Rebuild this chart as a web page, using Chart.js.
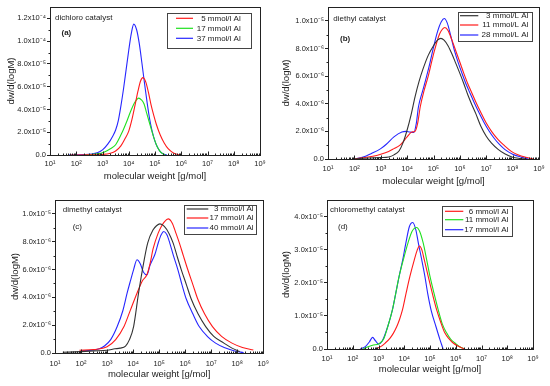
<!DOCTYPE html>
<html>
<head>
<meta charset="utf-8">
<script src="https://cdn.jsdelivr.net/npm/chart.js@4.4.0/dist/chart.umd.min.js"></script>
<style>
  body { margin: 0; background: #fff; }
  canvas { position: absolute; }
</style>
</head>
<body>
<canvas id="chartA" width="275" height="193" style="left:0;top:0"></canvas>
<canvas id="chartB" width="275" height="193" style="left:275px;top:0"></canvas>
<canvas id="chartC" width="275" height="193" style="left:0;top:193px"></canvas>
<canvas id="chartD" width="275" height="193" style="left:275px;top:193px"></canvas>
<script>
// x axis: log10 of molecular weight, ticks 10^1 .. 10^9
const massTicks = [1, 2, 3, 4, 5, 6, 7, 8, 9];

// (a) dichloro catalyst, dw/d(logM) in units of 1e-5
const dichloroTicks = [0, 2, 4, 6, 8, 10, 12];
const dichloroLabels = ['5 mmol/l Al', '17 mmol/l Al', '37 mmol/l Al'];
const dichloroLogM5 = [1.8, 2.5, 3.0, 3.3, 3.5, 3.7, 3.85, 4.0, 4.12, 4.25, 4.35, 4.45, 4.54, 4.65, 4.75, 4.85, 4.95, 5.05, 5.2, 5.35, 5.5, 5.7, 5.95];
const dichloroW5 = [0, 0.02, 0.05, 0.15, 0.35, 0.8, 1.4, 2.1, 3.1, 4.5, 5.6, 6.5, 6.8, 6.4, 5.5, 4.4, 3.5, 2.7, 1.75, 1.05, 0.55, 0.18, 0];
const dichloroLogM17 = [2.3, 2.8, 3.05, 3.3, 3.5, 3.75, 3.95, 4.1, 4.25, 4.38, 4.48, 4.58, 4.68, 4.78, 4.88, 4.98, 5.08, 5.2, 5.3, 5.4];
const dichloroW17 = [0, 0.1, 0.25, 0.55, 0.9, 2.0, 3.1, 4.0, 4.7, 5.0, 4.85, 4.5, 3.7, 2.9, 2.1, 1.35, 0.75, 0.3, 0.1, 0];
const dichloroLogM37 = [1.7, 2.3, 2.8, 3.0, 3.2, 3.4, 3.5, 3.6, 3.7, 3.8, 3.9, 4.0, 4.1, 4.19, 4.3, 4.4, 4.5, 4.6, 4.7, 4.8, 4.9, 5.0, 5.1, 5.2, 5.3, 5.45];
const dichloroW37 = [0, 0.03, 0.2, 0.45, 0.95, 1.7, 2.2, 3.0, 4.3, 5.8, 7.5, 9.2, 10.7, 11.5, 11.0, 9.8, 8.1, 6.3, 4.6, 3.1, 2.0, 1.2, 0.65, 0.3, 0.12, 0];

// (b) diethyl catalyst, units of 1e-6
const diethylTicks = [0, 2, 4, 6, 8, 10];
const diethylLabels = ['3 mmol/L Al', '11 mmol/L Al', '28 mmol/L Al'];
const diethylLogM3 = [2.0, 2.3, 2.7, 3.0, 3.3, 3.5, 3.7, 3.85, 4.0, 4.15, 4.3, 4.45, 4.6, 4.8, 5.0, 5.15, 5.28, 5.4, 5.55, 5.7, 5.85, 6.0, 6.15, 6.3, 6.45, 6.6, 6.8, 7.0, 7.2, 7.45, 7.7, 8.0, 8.3, 8.5];
const diethylW3 = [0, 0.05, 0.08, 0.1, 0.15, 0.3, 0.6, 1.2, 2.1, 3.2, 4.5, 5.6, 6.5, 7.5, 8.2, 8.6, 8.73, 8.6, 8.2, 7.6, 6.9, 6.2, 5.45, 4.65, 3.95, 3.3, 2.35, 1.65, 1.15, 0.7, 0.38, 0.13, 0.04, 0];
const diethylLogM11 = [2.0, 2.3, 2.7, 3.0, 3.3, 3.5, 3.73, 4.0, 4.18, 4.3, 4.4, 4.5, 4.65, 4.8, 4.95, 5.06, 5.2, 5.3, 5.43, 5.55, 5.7, 5.85, 6.0, 6.15, 6.3, 6.45, 6.6, 6.8, 7.0, 7.2, 7.45, 7.7, 7.95, 8.2, 8.5, 8.8];
const diethylW11 = [0, 0.08, 0.2, 0.35, 0.55, 0.75, 1.0, 1.6, 1.95, 2.0, 2.6, 3.8, 5.0, 6.0, 7.2, 8.0, 8.9, 9.3, 9.52, 9.3, 8.6, 7.8, 7.0, 6.2, 5.45, 4.8, 4.15, 3.35, 2.6, 2.0, 1.4, 0.95, 0.55, 0.3, 0.12, 0];
const diethylLogM28 = [2.0, 2.3, 2.66, 3.0, 3.2, 3.5, 3.8, 3.95, 4.1, 4.25, 4.35, 4.43, 4.6, 4.74, 4.87, 4.99, 5.15, 5.3, 5.41, 5.52, 5.65, 5.8, 5.95, 6.1, 6.25, 6.4, 6.55, 6.7, 6.9, 7.1, 7.3, 7.5, 7.7, 8.0, 8.3, 8.6];
const diethylW28 = [0, 0.12, 0.41, 0.75, 1.05, 1.6, 1.95, 2.0, 1.95, 1.92, 2.6, 3.78, 5.0, 6.0, 7.0, 8.0, 9.2, 9.95, 10.17, 9.85, 8.95, 7.8, 6.9, 6.1, 5.35, 4.7, 4.05, 3.45, 2.7, 2.05, 1.5, 1.05, 0.7, 0.35, 0.15, 0];

// (c) dimethyl catalyst, units of 1e-6
const dimethylTicks = [0, 2, 4, 6, 8, 10];
const dimethylLabels = ['3 mmol/l Al', '17 mmol/l Al', '40 mmol/l Al'];
const dimethylLogM3 = [1.3, 2.0, 2.5, 3.0, 3.3, 3.5, 3.71, 3.86, 4.02, 4.21, 4.36, 4.56, 4.77, 4.9, 5.03, 5.2, 5.38, 5.54, 5.7, 5.85, 6.05, 6.23, 6.5, 6.79, 7.1, 7.49, 7.8, 8.1];
const dimethylW3 = [0.05, 0.1, 0.15, 0.2, 0.3, 0.35, 0.5, 0.96, 1.9, 4.3, 6.0, 7.9, 8.86, 9.15, 9.28, 9.1, 8.6, 7.9, 6.9, 6.0, 4.9, 3.9, 2.8, 1.9, 1.2, 0.71, 0.35, 0.1];
const dimethylLogM17 = [1.94, 2.5, 3.0, 3.33, 3.65, 3.9, 4.15, 4.36, 4.53, 4.65, 4.77, 4.96, 5.1, 5.21, 5.35, 5.5, 5.65, 5.78, 5.93, 6.1, 6.3, 6.48, 6.75, 7.05, 7.4, 7.8, 8.2, 8.62];
const dimethylW17 = [0.2, 0.25, 0.45, 0.96, 1.9, 3.1, 4.3, 5.2, 5.62, 6.4, 7.5, 8.6, 9.15, 9.45, 9.64, 9.35, 8.6, 7.9, 7.0, 6.0, 4.9, 3.9, 2.8, 1.9, 1.2, 0.71, 0.4, 0.22];
const dimethylLogM40 = [2.0, 2.4, 2.7, 2.9, 3.14, 3.39, 3.6, 3.77, 3.9, 4.02, 4.15, 4.28, 4.4, 4.53, 4.65, 4.84, 4.98, 5.08, 5.18, 5.3, 5.41, 5.55, 5.72, 5.88, 6.04, 6.3, 6.54, 6.85, 7.17, 7.5, 7.9, 8.25];
const dimethylW40 = [0.15, 0.2, 0.3, 0.5, 0.96, 1.9, 3.0, 4.3, 5.2, 6.0, 6.7, 6.4, 5.8, 5.62, 6.3, 7.1, 8.0, 8.5, 8.73, 8.5, 7.9, 7.0, 6.0, 4.9, 3.9, 2.8, 1.9, 1.2, 0.71, 0.4, 0.15, 0.02];

// (d) chloromethyl catalyst, units of 1e-5
const chloromethylTicks = [0, 1, 2, 3, 4];
const chloromethylLabels = ['6 mmol/l Al', '11 mmol/l Al', '17 mmol/l Al'];
const chloromethylLogM6 = [2.87, 3.1, 3.26, 3.45, 3.58, 3.71, 3.82, 3.93, 4.07, 4.22, 4.39, 4.5, 4.59, 4.68, 4.78, 4.93, 5.1, 5.26, 5.42, 5.58, 5.75, 5.9, 6.1, 6.35];
const chloromethylW6 = [0, 0.08, 0.18, 0.33, 0.48, 0.68, 0.9, 1.18, 1.68, 2.19, 2.69, 2.98, 3.11, 3.0, 2.69, 2.19, 1.65, 1.18, 0.8, 0.48, 0.3, 0.18, 0.08, 0];
const chloromethylLogM11 = [2.4, 2.6, 2.8, 3.0, 3.2, 3.36, 3.54, 3.67, 3.8, 4.0, 4.14, 4.3, 4.48, 4.6, 4.74, 4.87, 5.0, 5.15, 5.32, 5.48, 5.65, 5.8, 5.97, 6.15, 6.35];
const chloromethylW11 = [0, 0.07, 0.12, 0.15, 0.3, 0.68, 1.18, 1.68, 2.19, 2.8, 3.19, 3.55, 3.67, 3.55, 3.19, 2.7, 2.19, 1.7, 1.18, 0.75, 0.48, 0.3, 0.18, 0.07, 0];
const chloromethylLogM17 = [2.29, 2.5, 2.65, 2.77, 2.88, 3.0, 3.15, 3.36, 3.54, 3.67, 3.8, 3.94, 4.06, 4.2, 4.33, 4.45, 4.55, 4.68, 4.8, 4.91, 5.05, 5.23, 5.38, 5.51];
const chloromethylW17 = [0, 0.08, 0.22, 0.35, 0.25, 0.15, 0.25, 0.68, 1.18, 1.68, 2.19, 2.69, 3.19, 3.7, 3.82, 3.6, 3.19, 2.69, 2.2, 1.68, 1.15, 0.68, 0.3, 0];

const ink = '#222';
const family = 'Arial, "Liberation Sans", sans-serif';
const RED = '#ff1a1a', GREEN = '#1fe01f', BLUE = '#2626ff', BLACK = '#333';

const SUP = { '-': '\u207b', '0': '\u2070', '1': '\u00b9', '2': '\u00b2', '3': '\u00b3', '4': '\u2074', '5': '\u2075', '6': '\u2076', '7': '\u2077', '8': '\u2078', '9': '\u2079' };
const sup = n => String(n).split('').map(c => SUP[c]).join('');

function sciLabel(v) {
  if (Math.abs(v) < 1e-12) return '0.0';
  const e = Math.floor(Math.log10(v) + 1e-9);
  return (v / 10 ** e).toFixed(1) + 'x10' + sup(e);
}

function toPoints(logM, w, unit) {
  return logM.map((m, i) => ({ x: 10 ** m, y: w[i] * unit }));
}

// frame, minor ticks, panel name and boxed legend
function decorPlugin(d) {
  return {
    id: 'decor',
    afterDraw(chart) {
      const { ctx, chartArea: a, scales: { x, y } } = chart;
      ctx.save();
      ctx.strokeStyle = ink;
      ctx.lineWidth = 1;
      const L = Math.round(a.left) + 0.5, T = Math.round(a.top) + 0.5;
      const R = Math.round(a.right) + 0.5, B = Math.round(a.bottom) + 0.5;
      ctx.strokeRect(L, T, R - L, B - T);

      ctx.beginPath();
      for (let e = 1; e < 9; e++) {
        for (let k = 1; k < 10; k++) {
          const px = Math.round(x.getPixelForValue(k * 10 ** e)) + 0.5;
          const len = k === 1 ? 4 : 2;
          ctx.moveTo(px, B);
          ctx.lineTo(px, B - len);
        }
      }
      const yt = y.ticks;
      for (let i = 0; i + 1 < yt.length; i++) {
        const py = Math.round(y.getPixelForValue((yt[i].value + yt[i + 1].value) / 2)) + 0.5;
        ctx.moveTo(L - 2, py);
        ctx.lineTo(L, py);
      }
      ctx.stroke();

      ctx.fillStyle = ink;
      ctx.textBaseline = 'middle';
      ctx.textAlign = 'left';
      ctx.font = '8px ' + family;
      ctx.fillText(d.name, d.nameAt[0], d.nameAt[1]);
      ctx.font = (d.tagBold ? 'bold ' : '') + '8px ' + family;
      ctx.fillText(d.tag, d.tagAt[0], d.tagAt[1]);

      const [bx1, by1, bx2, by2] = d.box;
      ctx.strokeStyle = '#444';
      ctx.strokeRect(Math.round(bx1) + 0.5, Math.round(by1) + 0.5, Math.round(bx2 - bx1), Math.round(by2 - by1));
      ctx.font = '8px ' + family;
      ctx.textAlign = 'right';
      chart.data.datasets.forEach((ds, i) => {
        const ry = d.rows[i];
        ctx.strokeStyle = ds.borderColor;
        ctx.lineWidth = 1.2;
        ctx.beginPath();
        ctx.moveTo(d.line[0], ry);
        ctx.lineTo(d.line[1], ry);
        ctx.stroke();
        ctx.fillStyle = ink;
        ctx.fillText(ds.label, d.textRight, ry);
      });
      ctx.restore();
    }
  };
}

function makeChart(id, p) {
  new Chart(document.getElementById(id), {
    type: 'line',
    data: {
      datasets: p.series.map(s => ({
        label: s.label,
        data: toPoints(s.logM, s.w, p.unit),
        borderColor: s.color,
        borderWidth: 1.1,
        pointRadius: 0,
        fill: false,
        cubicInterpolationMode: 'monotone'
      }))
    },
    options: {
      responsive: false,
      animation: false,
      devicePixelRatio: 1,
      layout: { padding: { left: 0, top: p.box.top, right: p.box.right, bottom: 0 } },
      plugins: { legend: { display: false }, tooltip: { enabled: false } },
      scales: {
        x: {
          type: 'logarithmic',
          min: 10,
          max: 1e9,
          afterBuildTicks: s => { s.ticks = massTicks.map(e => ({ value: 10 ** e })); },
          afterFit: s => { s.height = p.box.xh; },
          grid: { display: false, drawTicks: false },
          border: { display: false },
          ticks: {
            autoSkip: false, maxRotation: 0, padding: p.box.tickPad, color: ink,
            font: { family, size: 7.5 },
            callback: v => '10' + sup(Math.round(Math.log10(v)))
          },
          title: {
            display: true, text: 'molecular weight [g/mol]', color: ink,
            font: { family, size: 9.5 }, padding: { top: 0, bottom: p.box.xTitlePad }
          }
        },
        y: {
          min: 0,
          max: p.yMax * p.unit,
          afterBuildTicks: s => { s.ticks = p.yTicks.map(v => ({ value: v * p.unit })); },
          afterFit: s => { s.width = p.box.left; },
          grid: { drawOnChartArea: false, tickLength: 3, color: ink },
          border: { display: false },
          ticks: { padding: 1, color: ink, font: { family, size: 7.5 }, callback: v => sciLabel(v) },
          title: {
            display: true, text: 'dw/d(logM)', color: ink,
            font: { family, size: 9.5 }, padding: { top: p.box.yTitlePad, bottom: 0 }
          }
        }
      }
    },
    plugins: [decorPlugin(p.decor)]
  });
}

makeChart('chartA', {
  unit: 1e-5, yMax: 13, yTicks: dichloroTicks,
  series: [
    { label: dichloroLabels[0], logM: dichloroLogM5, w: dichloroW5, color: RED },
    { label: dichloroLabels[1], logM: dichloroLogM17, w: dichloroW17, color: GREEN },
    { label: dichloroLabels[2], logM: dichloroLogM37, w: dichloroW37, color: BLUE }
  ],
  box: { left: 50, top: 7, right: 15, xh: 38, tickPad: 4, xTitlePad: 10.6, yTitlePad: 5.3 },
  decor: { name: 'dichloro catalyst', nameAt: [55, 18], tag: '(a)', tagAt: [61.5, 33], tagBold: true,
           box: [166.7, 13.3, 250.7, 48.3], line: [176, 193], rows: [18.3, 28.3, 38.3], textRight: 240.7 }
});

makeChart('chartB', {
  unit: 1e-6, yMax: 11, yTicks: diethylTicks,
  series: [
    { label: diethylLabels[0], logM: diethylLogM3, w: diethylW3, color: BLACK },
    { label: diethylLabels[1], logM: diethylLogM11, w: diethylW11, color: RED },
    { label: diethylLabels[2], logM: diethylLogM28, w: diethylW28, color: BLUE }
  ],
  box: { left: 53, top: 7, right: 11, xh: 34, tickPad: 5, xTitlePad: 5.6, yTitlePad: 5.3 },
  decor: { name: 'diethyl catalyst', nameAt: [58.3, 18.3], tag: '(b)', tagAt: [65, 38.3], tagBold: true,
           box: [182.7, 11.7, 256.7, 40.7], line: [185, 203.3], rows: [15.7, 25, 35], textRight: 253.3 }
});

makeChart('chartC', {
  unit: 1e-6, yMax: 11, yTicks: dimethylTicks,
  series: [
    { label: dimethylLabels[0], logM: dimethylLogM3, w: dimethylW3, color: BLACK },
    { label: dimethylLabels[1], logM: dimethylLogM17, w: dimethylW17, color: RED },
    { label: dimethylLabels[2], logM: dimethylLogM40, w: dimethylW40, color: BLUE }
  ],
  box: { left: 55, top: 7, right: 8, xh: 33, tickPad: 6, xTitlePad: 5.6, yTitlePad: 9.3 },
  decor: { name: 'dimethyl catalyst', nameAt: [62.7, 16.7], tag: '(c)', tagAt: [72.7, 34], tagBold: false,
           box: [184, 11.7, 255.5, 40.7], line: [186.7, 208.3], rows: [16, 25, 35], textRight: 253.5 }
});

makeChart('chartD', {
  unit: 1e-5, yMax: 4.5, yTicks: chloromethylTicks,
  series: [
    { label: chloromethylLabels[0], logM: chloromethylLogM6, w: chloromethylW6, color: RED },
    { label: chloromethylLabels[1], logM: chloromethylLogM11, w: chloromethylW11, color: GREEN },
    { label: chloromethylLabels[2], logM: chloromethylLogM17, w: chloromethylW17, color: BLUE }
  ],
  box: { left: 52, top: 7, right: 17, xh: 37, tickPad: 5, xTitlePad: 10.6, yTitlePad: 6 },
  decor: { name: 'chloromethyl catalyst', nameAt: [55, 16.7], tag: '(d)', tagAt: [63, 33.3], tagBold: false,
           box: [166.7, 12.7, 236.7, 42.7], line: [170, 188.3], rows: [18.3, 26.7, 36.7], textRight: 233.3 }
});
</script>
</body>
</html>
